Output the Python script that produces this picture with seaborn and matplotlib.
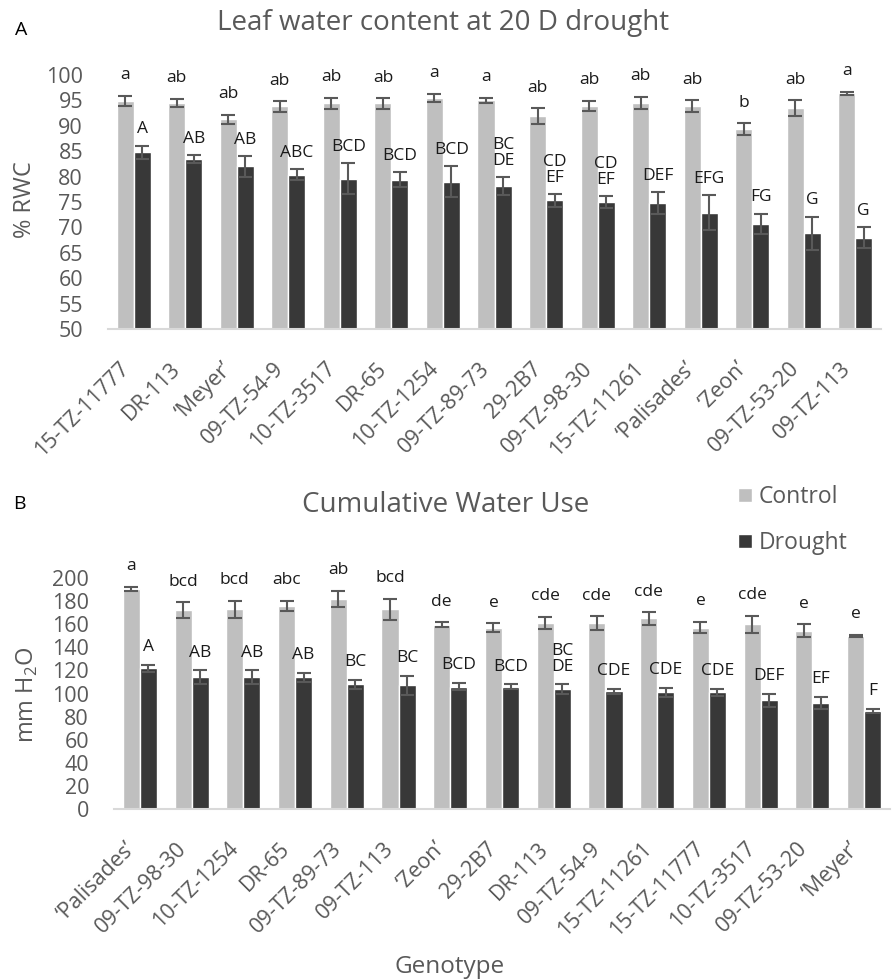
import matplotlib
matplotlib.use('Agg')
from matplotlib import pyplot as plt
from matplotlib.transforms import ScaledTranslation
import seaborn as sns
import pandas as pd

sns.set_style('white')
plt.rcParams['font.family'] = ['Open Sans', 'DejaVu Sans']
plt.rcParams['mathtext.fontset'] = 'custom'
plt.rcParams['mathtext.rm'] = 'Open Sans'

GREY_TXT = '#595959'
LIGHT = '#BFBFBF'
DARK = '#383838'
treatments = ['Control', 'Drought']

# Panel A - leaf relative water content (%)
genotypes_a = ['15-TZ-11777', 'DR-113', '\u2018Meyer\u2019', '09-TZ-54-9', '10-TZ-3517',
               'DR-65', '10-TZ-1254', '09-TZ-89-73', '29-2B7', '09-TZ-98-30',
               '15-TZ-11261', '\u2018Palisades\u2019', '\u2018Zeon\u2019', '09-TZ-53-20', '09-TZ-113']
rwc_control = [94.9, 94.5, 91.3, 93.8, 94.4, 94.4, 95.5, 95.0, 91.9, 93.9, 94.5, 93.9, 89.3, 93.5, 96.4]
rwc_control_se = [1.0, 0.85, 0.9, 1.05, 1.15, 1.05, 0.85, 0.5, 1.6, 1.0, 1.2, 1.1, 1.2, 1.5, 0.3]
rwc_drought = [84.8, 83.4, 82.0, 80.4, 79.6, 79.4, 79.0, 78.1, 75.3, 75.0, 74.8, 72.9, 70.7, 68.8, 68.0]
rwc_drought_se = [1.3, 0.8, 2.0, 1.0, 3.0, 1.5, 3.1, 1.8, 1.2, 1.2, 2.2, 3.5, 2.0, 3.3, 2.1]
rwc_control_let = ['a', 'ab', 'ab', 'ab', 'ab', 'ab', 'a', 'a', 'ab', 'ab', 'ab', 'ab', 'b', 'ab', 'a']
rwc_drought_let = ['A', 'AB', 'AB', 'ABC', 'BCD', 'BCD', 'BCD', 'BC\nDE', 'CD\nEF', 'CD\nEF',
                   'DEF', 'EFG', 'FG', 'G', 'G']

# Panel B - cumulative water use (mm H2O)
genotypes_b = ['\u2018Palisades\u2019', '09-TZ-98-30', '10-TZ-1254', 'DR-65', '09-TZ-89-73',
               '09-TZ-113', '\u2018Zeon\u2019', '29-2B7', 'DR-113', '09-TZ-54-9',
               '15-TZ-11261', '15-TZ-11777', '10-TZ-3517', '09-TZ-53-20', '\u2018Meyer\u2019']
cwu_control = [190.5, 172, 173, 176, 182, 173, 159.5, 157, 161, 161, 165, 157, 160, 154.5, 150]
cwu_control_se = [2, 7, 7.5, 4.5, 7, 9, 2, 4, 5.5, 6, 5.5, 5, 7.5, 5.5, 0.8]
cwu_drought = [122, 114, 114, 114, 108, 107, 106, 106, 104, 102, 101, 101, 94, 92, 85]
cwu_drought_se = [3, 6, 6, 4, 4, 8, 3, 2, 4, 2, 4, 3, 6, 5, 2]
cwu_control_let = ['a', 'bcd', 'bcd', 'abc', 'ab', 'bcd', 'de', 'e', 'cde', 'cde', 'cde', 'e', 'cde', 'e', 'e']
cwu_drought_let = ['A', 'AB', 'AB', 'AB', 'BC', 'BC', 'BCD', 'BCD', 'BC\nDE', 'CDE', 'CDE', 'CDE',
                   'DEF', 'EF', 'F']


def draw_panel(ax, genotypes, ctrl, ctrl_se, drt, drt_se, ctrl_let, drt_let,
               ylim, yticks, legend, offs):
    df = pd.DataFrame({'Genotype': genotypes * 2,
                       'Treatment': ['Control'] * len(genotypes) + ['Drought'] * len(genotypes),
                       'value': ctrl + drt})
    sns.barplot(data=df, x='Genotype', y='value', hue='Treatment', order=genotypes,
                hue_order=treatments, palette=[LIGHT, DARK], width=0.66, gap=0,
                errorbar=None, saturation=1, legend=legend, ax=ax)
    for cont, se, lets, off in zip(ax.containers, [ctrl_se, drt_se], [ctrl_let, drt_let], offs):
        xs = [b.get_x() + b.get_width() / 2 for b in cont]
        hs = [b.get_height() for b in cont]
        ax.errorbar(xs, hs, yerr=se, fmt='none', ecolor=GREY_TXT, elinewidth=1.5,
                    capsize=5, capthick=1.5, zorder=3)
        for x, h, s, lab in zip(xs, hs, se, lets):
            ax.annotate(lab, (x, h + s), xytext=(0, off), textcoords='offset points',
                        ha='center', va='bottom', fontsize=12.5, color='#1a1a1a',
                        linespacing=1.0, annotation_clip=False)
    ax.set_ylim(*ylim)
    ax.set_xlim(-0.5, len(genotypes) - 0.5)
    ax.set_yticks(yticks)
    ax.set_xlabel('')
    ax.set_ylabel('')
    for side in ['top', 'right', 'left']:
        ax.spines[side].set_visible(False)
    ax.spines['bottom'].set_color('#D9D9D9')
    ax.spines['bottom'].set_linewidth(1.5)
    ax.tick_params(axis='y', length=0, pad=18, labelsize=15.5, labelcolor=GREY_TXT)
    ax.tick_params(axis='x', length=0, pad=19, labelsize=15.5, labelcolor=GREY_TXT)
    shift = ScaledTranslation(-8 / 100, -10 / 100, ax.figure.dpi_scale_trans)
    for lab in ax.get_xticklabels():
        lab.set_rotation(45)
        lab.set_ha('right')
        lab.set_va('center')
        lab.set_rotation_mode('anchor')
        lab.set_transform(lab.get_transform() + shift)


fig = plt.figure(figsize=(8.94, 9.8), dpi=100)
W, H = 894, 980
ax1 = fig.add_axes([108 / W, 1 - 329 / H, 773 / W, 254 / H])
ax2 = fig.add_axes([114 / W, 1 - 809 / H, 776 / W, 231 / H])

draw_panel(ax1, genotypes_a, rwc_control, rwc_control_se, rwc_drought, rwc_drought_se,
           rwc_control_let, rwc_drought_let, (50, 100), range(50, 101, 5), False, (9, 6))
draw_panel(ax2, genotypes_b, cwu_control, cwu_control_se, cwu_drought, cwu_drought_se,
           cwu_control_let, cwu_drought_let, (0, 200), range(0, 201, 20), True, (9, 7))

leg = ax2.legend(loc='center left', bbox_to_anchor=(738 / W, 1 - 520 / H),
                 bbox_transform=fig.transFigure, frameon=False, fontsize=16.5,
                 borderpad=0, borderaxespad=0,
                 handlelength=0.6, handleheight=0.6, labelspacing=0.95, handletextpad=0.3)
for t in leg.get_texts():
    t.set_color(GREY_TXT)

fig.text(443 / W, 1 - 23 / H, 'Leaf water content at 20 D drought', ha='center', va='center',
         fontsize=20, color=GREY_TXT)
fig.text(446 / W, 1 - 505 / H, 'Cumulative Water Use', ha='center', va='center',
         fontsize=20, color=GREY_TXT)
fig.text(21 / W, 1 - 30 / H, 'A', ha='center', va='center', fontsize=14, color='black')
fig.text(19 / W, 1 - 504 / H, 'B', ha='center', va='center', fontsize=14, color='black')
fig.text(25 / W, 1 - 200 / H, '% RWC', ha='center', va='center', rotation=90,
         fontsize=17, color=GREY_TXT)
fig.text(27 / W, 1 - 695 / H, r'mm H$_\mathrm{2}$O', ha='center', va='center', rotation=90,
         fontsize=17, color=GREY_TXT)
fig.text(450 / W, 1 - 967 / H, 'Genotype', ha='center', va='center', fontsize=17.5, color=GREY_TXT)

fig.savefig('out.png', dpi=100)
